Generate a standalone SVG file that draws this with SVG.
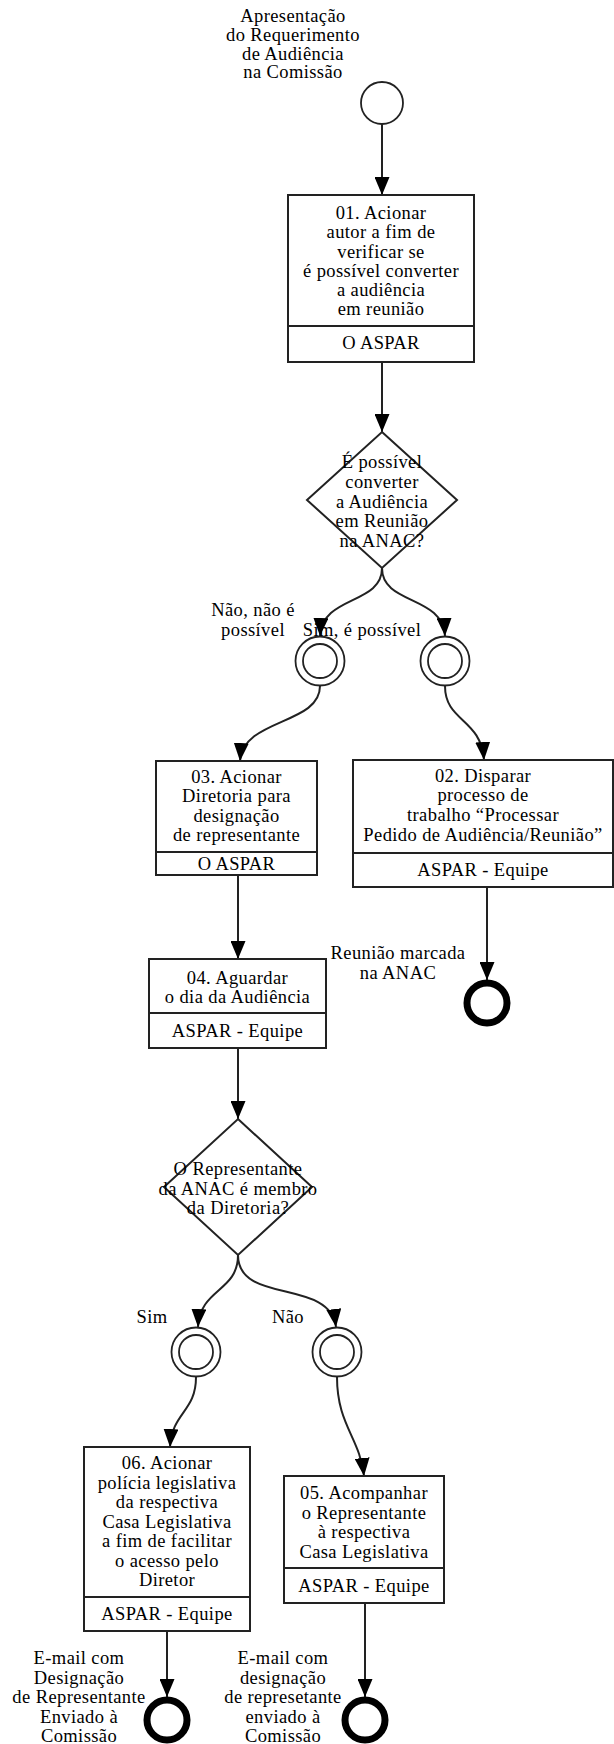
<svg xmlns="http://www.w3.org/2000/svg" width="614" height="1744" viewBox="0 0 614 1744">
<style>
text{font-family:"Liberation Serif","Times New Roman",serif;font-size:18.5px;letter-spacing:0.4px;fill:#000;text-anchor:middle}
.box{fill:#fff;stroke:#222;stroke-width:2}
.div{stroke:#222;stroke-width:2}
.ev{fill:#fff;stroke:#222;stroke-width:1.8}
.end{fill:none;stroke:#000;stroke-width:7}
.con{fill:none;stroke:#222;stroke-width:2}
</style>
<defs>
<marker id="ah" markerUnits="userSpaceOnUse" markerWidth="18" markerHeight="15" refX="18" refY="7.5" orient="auto">
<path d="M0,0 L18,7.5 L0,15 z" fill="#000"/>
</marker>
</defs>

<g id="connectors">
<path class="con" d="M382,124 L382,195" marker-end="url(#ah)"/>
<path class="con" d="M382,362 L382,432" marker-end="url(#ah)"/>
<path class="con" d="M382,568 C382,605 322,595 320,636" marker-end="url(#ah)"/>
<path class="con" d="M382,568 C382,605 443,595 445,636" marker-end="url(#ah)"/>
<path class="con" d="M320,686 C320,725 243,718 240,761" marker-end="url(#ah)"/>
<path class="con" d="M445,686 C445,722 481,718 484,760" marker-end="url(#ah)"/>
<path class="con" d="M487,887 L487,980" marker-end="url(#ah)"/>
<path class="con" d="M238,875 L238,959" marker-end="url(#ah)"/>
<path class="con" d="M238,1048 L238,1119" marker-end="url(#ah)"/>
<path class="con" d="M238,1255 C238,1292 200,1288 198,1327" marker-end="url(#ah)"/>
<path class="con" d="M238,1255 C238,1305 330,1278 336,1327" marker-end="url(#ah)"/>
<path class="con" d="M196,1377 C196,1412 172,1412 170,1447" marker-end="url(#ah)"/>
<path class="con" d="M337,1377 C337,1425 360,1438 364,1476" marker-end="url(#ah)"/>
<path class="con" d="M167,1631 L167,1697" marker-end="url(#ah)"/>
<path class="con" d="M365,1603 L365,1697" marker-end="url(#ah)"/>
</g>

<g id="start">
<circle class="ev" cx="382" cy="103" r="21"/>
<text x="293" y="22">Apresentação</text>
<text x="293" y="41">do Requerimento</text>
<text x="293" y="59.5">de Audiência</text>
<text x="293" y="78">na Comissão</text>
</g>

<g id="task01">
<rect class="box" x="288" y="195" width="186" height="167"/>
<line class="div" x1="288" y1="326" x2="474" y2="326"/>
<text x="381" y="219">01. Acionar</text>
<text x="381" y="238.2">autor a fim de</text>
<text x="381" y="257.5">verificar se</text>
<text x="381" y="276.7">é possível converter</text>
<text x="381" y="295.9">a audiência</text>
<text x="381" y="315.1">em reunião</text>
<text x="381" y="349">O ASPAR</text>
</g>

<g id="gateway1">
<polygon class="box" points="382,432 457,500 382,568 307,500"/>
<text x="382" y="468">É possível</text>
<text x="382" y="487.5">converter</text>
<text x="382" y="507.5">a Audiência</text>
<text x="382" y="527">em Reunião</text>
<text x="382" y="547">na ANAC?</text>
</g>

<g id="evNao1">
<circle class="ev" cx="320" cy="661" r="24.5"/>
<circle class="ev" cx="320" cy="661" r="17"/>
<text x="253" y="616">Não, não é</text>
<text x="253" y="636">possível</text>
</g>

<g id="evSim1">
<circle class="ev" cx="445" cy="661" r="24.5"/>
<circle class="ev" cx="445" cy="661" r="17"/>
<text x="362" y="636">Sim, é possível</text>
</g>

<g id="task03">
<rect class="box" x="156" y="761" width="161" height="114"/>
<line class="div" x1="156" y1="852" x2="317" y2="852"/>
<text x="236.5" y="783">03. Acionar</text>
<text x="236.5" y="802">Diretoria para</text>
<text x="236.5" y="821.5">designação</text>
<text x="236.5" y="841">de representante</text>
<text x="236.5" y="869.5">O ASPAR</text>
</g>

<g id="task02">
<rect class="box" x="353" y="760" width="260" height="127"/>
<line class="div" x1="353" y1="853" x2="613" y2="853"/>
<text x="483" y="782">02. Disparar</text>
<text x="483" y="801">processo de</text>
<text x="483" y="821">trabalho “Processar</text>
<text x="483" y="841">Pedido de Audiência/Reunião”</text>
<text x="483" y="875.5">ASPAR - Equipe</text>
</g>

<g id="end02">
<circle class="end" cx="487" cy="1003" r="20"/>
<text x="398" y="959">Reunião marcada</text>
<text x="398" y="979">na ANAC</text>
</g>

<g id="task04">
<rect class="box" x="149" y="959" width="177" height="89"/>
<line class="div" x1="149" y1="1013" x2="326" y2="1013"/>
<text x="237.5" y="984">04. Aguardar</text>
<text x="237.5" y="1003">o dia da Audiência</text>
<text x="237.5" y="1037">ASPAR - Equipe</text>
</g>

<g id="gateway2">
<polygon class="box" points="238,1119 312,1187 238,1255 164,1187"/>
<text x="238" y="1175">O Representante</text>
<text x="238" y="1195">da ANAC é membro</text>
<text x="238" y="1214">da Diretoria?</text>
</g>

<g id="evSim2">
<circle class="ev" cx="196" cy="1352" r="24.5"/>
<circle class="ev" cx="196" cy="1352" r="17"/>
<text x="152" y="1323">Sim</text>
</g>

<g id="evNao2">
<circle class="ev" cx="337" cy="1352" r="24.5"/>
<circle class="ev" cx="337" cy="1352" r="17"/>
<text x="288" y="1323">Não</text>
</g>

<g id="task06">
<rect class="box" x="84" y="1447" width="166" height="184"/>
<line class="div" x1="84" y1="1597" x2="250" y2="1597"/>
<text x="167" y="1469">06. Acionar</text>
<text x="167" y="1488.5">polícia legislativa</text>
<text x="167" y="1508">da respectiva</text>
<text x="167" y="1527.5">Casa Legislativa</text>
<text x="167" y="1547">a fim de facilitar</text>
<text x="167" y="1566.5">o acesso pelo</text>
<text x="167" y="1586">Diretor</text>
<text x="167" y="1619.5">ASPAR - Equipe</text>
</g>

<g id="end06">
<circle class="end" cx="167" cy="1720" r="20"/>
<text x="79" y="1664">E-mail com</text>
<text x="79" y="1683.5">Designação</text>
<text x="79" y="1703">de Representante</text>
<text x="79" y="1722.5">Enviado à</text>
<text x="79" y="1741.5">Comissão</text>
</g>

<g id="task05">
<rect class="box" x="284" y="1476" width="160" height="127"/>
<line class="div" x1="284" y1="1568" x2="444" y2="1568"/>
<text x="364" y="1499">05. Acompanhar</text>
<text x="364" y="1518.5">o Representante</text>
<text x="364" y="1538">à respectiva</text>
<text x="364" y="1557.5">Casa Legislativa</text>
<text x="364" y="1591.5">ASPAR - Equipe</text>
</g>

<g id="end05">
<circle class="end" cx="365" cy="1720" r="20"/>
<text x="283" y="1664">E-mail com</text>
<text x="283" y="1683.5">designação</text>
<text x="283" y="1703">de represetante</text>
<text x="283" y="1722.5">enviado à</text>
<text x="283" y="1741.5">Comissão</text>
</g>
</svg>
